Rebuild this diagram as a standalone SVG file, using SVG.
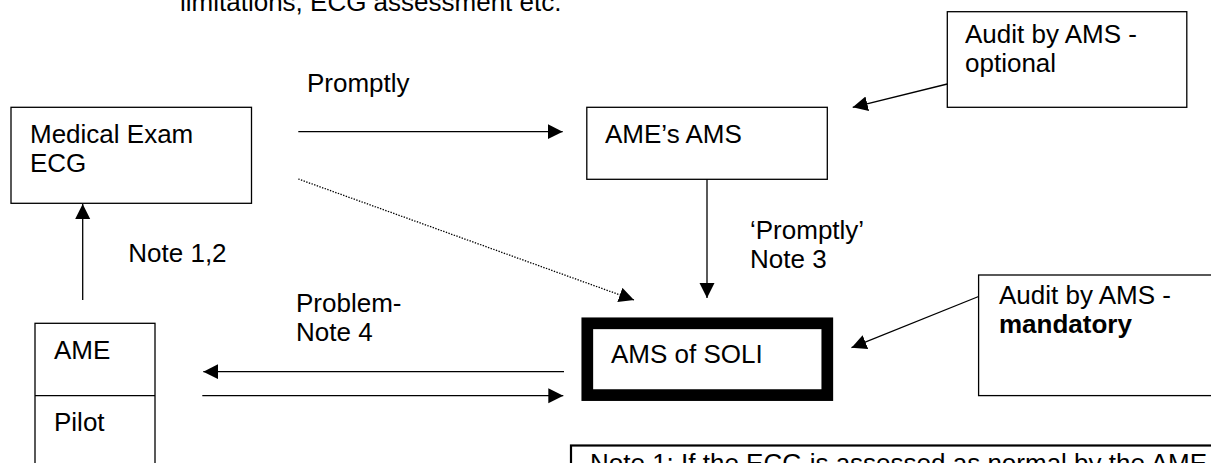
<svg xmlns="http://www.w3.org/2000/svg" width="1211" height="463" viewBox="0 0 1211 463">
  <style>
    .t { font-family: "Liberation Sans", Arial, sans-serif; font-size: 26px; fill: #000; }
    .b { font-weight: bold; }
    .box { fill: #fff; stroke: #000; stroke-width: 1.3; }
    .ln { fill: none; stroke: #000; stroke-width: 1.3; }
    .dot { fill: none; stroke: #000; stroke-width: 1.3; stroke-dasharray: 1.4 1.4; }
  </style>
  <defs>
    <marker id="arrow" markerUnits="userSpaceOnUse" markerWidth="16" markerHeight="16" refX="15" refY="7.5" orient="auto">
      <path d="M0,0 L15,7.5 L0,15 Z" fill="#000"/>
    </marker>
  </defs>

  <rect width="1211" height="463" fill="#fff"/>

  <!-- tail of the preceding paragraph -->
  <text class="t" x="180" y="11">limitations, ECG assessment etc.</text>

  <g id="medical-exam">
    <rect class="box" x="11" y="107.3" width="240.5" height="96"/>
    <text class="t" x="30" y="143.3">Medical Exam</text>
    <text class="t" x="30" y="172.3">ECG</text>
  </g>

  <g id="ame-ams">
    <rect class="box" x="586.8" y="107.3" width="240.5" height="72"/>
    <text class="t" x="605" y="143.3">AME’s AMS</text>
  </g>

  <g id="audit-optional">
    <rect class="box" x="947.3" y="11.7" width="239.5" height="95.6"/>
    <text class="t" x="965" y="42.7">Audit by AMS -</text>
    <text class="t" x="965" y="71.7">optional</text>
  </g>

  <g id="ams-soli">
    <rect x="587.3" y="323.3" width="240" height="71.8" fill="#fff" stroke="#000" stroke-width="11.7"/>
    <text class="t" x="611" y="363.3">AMS of SOLI</text>
  </g>

  <g id="audit-mandatory">
    <rect class="box" x="978.6" y="275" width="240" height="120.6"/>
    <text class="t" x="999" y="304">Audit by AMS -</text>
    <text class="t b" x="999" y="333">mandatory</text>
  </g>

  <g id="ame-pilot">
    <rect class="box" x="35" y="323.3" width="120" height="160"/>
    <line class="ln" x1="35" y1="395.7" x2="155" y2="395.7"/>
    <text class="t" x="54" y="359.3">AME</text>
    <text class="t" x="54" y="430.7">Pilot</text>
  </g>

  <g id="notes">
    <rect x="571" y="445.5" width="660" height="40" fill="#fff" stroke="#000" stroke-width="2.2"/>
    <text class="t" x="590" y="471.5">Note 1:  If the ECG is assessed as normal by the AME</text>
  </g>

  <g id="connectors">
    <line class="ln" x1="298.3" y1="131.7" x2="562.7" y2="131.7" marker-end="url(#arrow)"/>
    <line class="dot" x1="298.3" y1="179" x2="634" y2="300" marker-end="url(#arrow)"/>
    <line class="ln" x1="707" y1="179.3" x2="707" y2="298" marker-end="url(#arrow)"/>
    <line class="ln" x1="947.3" y1="84" x2="852.7" y2="107.3" marker-end="url(#arrow)"/>
    <line class="ln" x1="978.6" y1="296.5" x2="851.5" y2="347.7" marker-end="url(#arrow)"/>
    <line class="ln" x1="82.7" y1="300" x2="82.7" y2="204" marker-end="url(#arrow)"/>
    <line class="ln" x1="564" y1="371.7" x2="203.3" y2="371.7" marker-end="url(#arrow)"/>
    <line class="ln" x1="202.3" y1="395.7" x2="563.3" y2="395.7" marker-end="url(#arrow)"/>
  </g>

  <g id="labels">
    <text class="t" x="307" y="92">Promptly</text>
    <text class="t" x="750" y="239">‘Promptly’</text>
    <text class="t" x="750" y="268.3">Note 3</text>
    <text class="t" x="128.3" y="261.7">Note 1,2</text>
    <text class="t" x="296" y="312">Problem-</text>
    <text class="t" x="296" y="341">Note 4</text>
  </g>
</svg>
